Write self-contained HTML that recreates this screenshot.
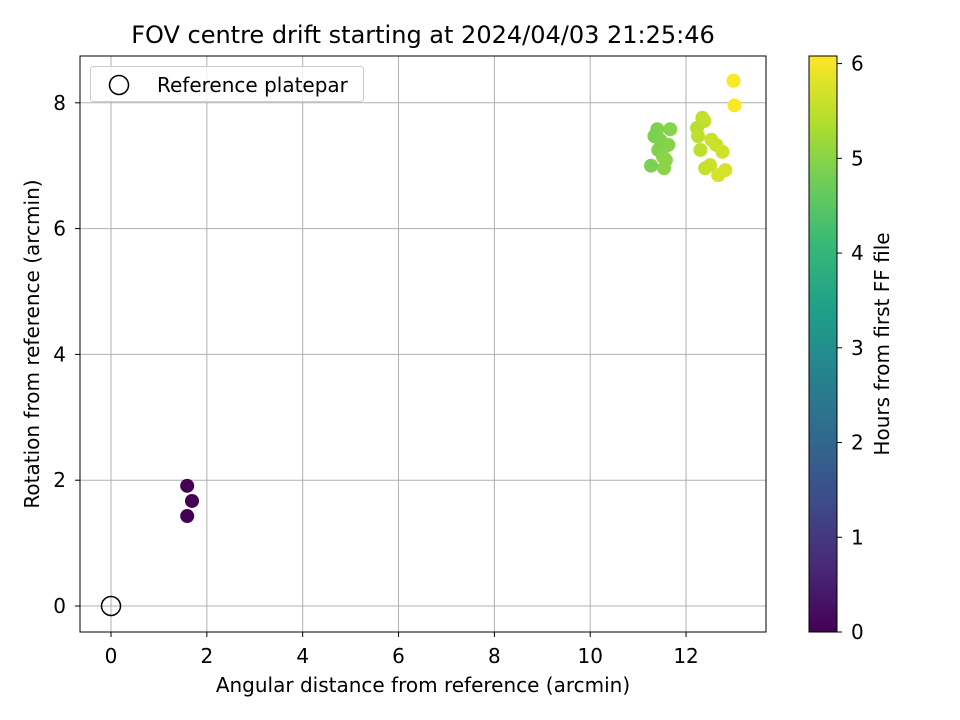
<!DOCTYPE html>
<html><head><meta charset="utf-8"><style>body{margin:0;background:#fff}svg{display:block;font-family:"DejaVu Sans","Liberation Sans",sans-serif}</style></head>
<body>
<svg id="chart" width="960" height="720"></svg>
<script>
const xs=[1.59,1.69,1.59,11.40,11.67,11.34,11.46,11.63,11.42,11.52,11.27,11.54,11.58,12.34,12.38,12.23,12.25,12.53,12.63,12.30,12.76,12.40,12.50,12.67,12.82,12.99,13.01];
const ys=[1.91,1.67,1.43,7.58,7.58,7.47,7.41,7.33,7.25,7.14,7.00,6.96,7.09,7.76,7.71,7.60,7.47,7.41,7.33,7.25,7.22,6.96,7.01,6.85,6.93,8.35,7.96];
const hours=[0.0,0.0,0.0,4.9,4.95,4.85,4.9,4.95,4.9,5.0,4.85,5.0,5.0,5.5,5.55,5.45,5.5,5.6,5.6,5.5,5.65,5.55,5.6,5.7,5.7,6.05,6.05];
const xTicks=[0,2,4,6,8,10,12];
const yTicks=[0,2,4,6,8];
const cTicks=[0,1,2,3,4,5,6];
const NS="http://www.w3.org/2000/svg";
const svg=document.getElementById('chart');
function el(t,a,p){const e=document.createElementNS(NS,t);for(const k in a)e.setAttribute(k,a[k]);(p||svg).appendChild(e);return e;}
const L=80,R=766,T=56,B=632;
const X=v=>111+v*47.92, Y=v=>606-v*62.9;
const cmin=0,cmax=6.08;
const vir=[[68,1,84],[72,40,120],[62,74,137],[49,104,142],[38,130,142],[31,158,137],[53,183,121],[109,205,89],[180,222,44],[253,231,37]];
function cmap(t){t=Math.max(0,Math.min(1,t))*(vir.length-1);const i=Math.min(Math.floor(t),vir.length-2),f=t-i;const c=vir[i].map((v,k)=>Math.round(v+(vir[i+1][k]-v)*f));return `rgb(${c})`;}
const FS=20;
xTicks.forEach(v=>{const g=el('line',{x1:X(v),x2:X(v),y1:T,y2:B,stroke:'#b0b0b0','stroke-width':1});
const t=el('line',{x1:X(v),x2:X(v),y1:B,y2:B+5,stroke:'#000'});
const l=el('text',{x:X(v),y:B+31,'text-anchor':'middle','font-size':FS});l.textContent=v;});
yTicks.forEach(v=>{const g=el('line',{x1:L,x2:R,y1:Y(v),y2:Y(v),stroke:'#b0b0b0','stroke-width':1});
const t=el('line',{x1:L-5,x2:L,y1:Y(v),y2:Y(v),stroke:'#000'});
const l=el('text',{x:L-14,y:Y(v)+7,'text-anchor':'end','font-size':FS});l.textContent=v;});
xs.forEach((x,i)=>{const c=el('circle',{cx:X(x),cy:Y(ys[i]),r:7,fill:cmap((hours[i]-cmin)/(cmax-cmin))});});
const ref=el('circle',{cx:X(0),cy:Y(0),r:9.5,fill:'none',stroke:'#000','stroke-width':1.5});
const fr=el('rect',{x:L,y:T,width:R-L,height:B-T,fill:'none',stroke:'#000','stroke-width':1});
const lg=el('g',{});
el('rect',{x:90.5,y:66.5,width:273,height:35,rx:3,fill:'#fff','fill-opacity':0.8,stroke:'#ccc'},lg);
el('circle',{cx:119,cy:85,r:9.5,fill:'none',stroke:'#000','stroke-width':1.5},lg);
const lt=el('text',{x:157,y:92,'font-size':FS},lg);lt.textContent='Reference platepar';
const title=el('text',{x:423,y:43,'text-anchor':'middle','font-size':24});title.textContent='FOV centre drift starting at 2024/04/03 21:25:46';
const xl=el('text',{x:423,y:692,'text-anchor':'middle','font-size':FS});xl.textContent='Angular distance from reference (arcmin)';
const yl=el('text',{x:39,y:344,'text-anchor':'middle','font-size':FS,transform:'rotate(-90 39 344)'});yl.textContent='Rotation from reference (arcmin)';
const defs=el('defs',{});const gr=el('linearGradient',{id:'vg',x1:0,y1:1,x2:0,y2:0},defs);
vir.forEach((c,i)=>el('stop',{offset:i/(vir.length-1),'stop-color':`rgb(${c})`},gr));
const cbx=809,cbw=28;
const cb=el('rect',{x:cbx,y:T,width:cbw,height:B-T,fill:'url(#vg)',stroke:'#000','stroke-width':1});
const C=v=>B-(v-cmin)/(cmax-cmin)*(B-T);
cTicks.forEach(v=>{el('line',{x1:cbx+cbw,x2:cbx+cbw+5,y1:C(v),y2:C(v),stroke:'#000'});
const l=el('text',{x:cbx+cbw+14,y:C(v)+7,'font-size':FS});l.textContent=v;});
const cl=el('text',{x:889,y:344,'text-anchor':'middle','font-size':FS,transform:'rotate(-90 889 344)'});cl.textContent='Hours from first FF file';
</script>
</body></html>
